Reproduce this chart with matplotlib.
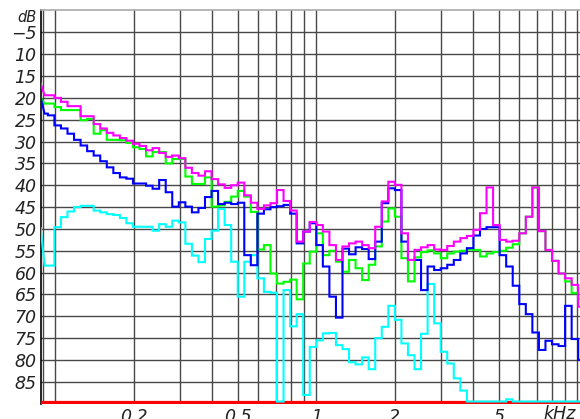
import numpy as np
import matplotlib
matplotlib.use("Agg")
import matplotlib.pyplot as plt
from matplotlib.ticker import FixedLocator, NullLocator

# ---- data (dB, larger = lower on chart), 1/12-octave bands from 2^(-42/12) kHz ----
band_k0 = -42          # first band edge exponent (k/12 octaves re 1 kHz)
n_bands = 83
floor_db = 89.5        # display floor (values beyond are drawn on the bottom edge)

magenta = [19.4, 19.4, 20.0, 20.9, 21.9, 21.9, 24.2, 24.2, 26.0, 27.0,
           28.0, 28.6, 29.2, 29.8, 30.5, 31.0, 32.0, 31.5, 32.6, 33.5,
           33.2, 33.8, 36.0, 37.2, 37.8, 36.8, 38.6, 39.8, 40.6, 40.0,
           39.4, 42.3, 44.0, 45.4, 44.6, 44.1, 41.1, 43.6, 45.8, 52.9,
           50.6, 48.4, 49.1, 50.6, 53.7, 57.1, 54.0, 53.3, 52.9, 53.7,
           54.4, 49.5, 43.7, 39.2, 39.9, 51.0, 57.1, 54.8, 54.2, 53.7,
           54.7, 54.8, 53.9, 52.9, 52.1, 51.6, 50.2, 46.4, 40.5, 49.1,
           52.5, 52.9, 52.7, 51.0, 47.2, 40.5, 50.5, 54.8, 57.3, 60.2,
           61.3, 62.8, 67.8]
green = [21.3, 21.3, 22.1, 22.8, 22.8, 22.8, 25.1, 24.8, 28.2, 27.4,
         29.6, 29.6, 29.7, 30.3, 31.3, 31.7, 33.4, 32.4, 32.4, 35.0,
         34.0, 34.0, 38.0, 39.7, 39.7, 38.2, 44.9, 44.6, 43.8, 42.6,
         41.3, 42.6, 46.1, 54.7, 53.7, 60.2, 62.5, 62.1, 61.6, 66.1,
         57.9, 55.2, 51.0, 56.0, 55.0, 57.5, 59.8, 57.1, 59.0, 61.7,
         58.2, 54.0, 48.3, 45.3, 47.2, 56.7, 62.0, 56.5, 55.3, 54.9,
         55.6, 56.7, 55.6, 55.2, 55.0, 54.7, 54.8, 56.3, 55.6, 55.3,
         55.0, 54.3, 53.5, 51.0, 47.2, 40.5, 50.5, 54.8, 57.3, 60.2,
         62.0, 64.7, 66.0]
blue = [23.6, 24.0, 26.3, 27.0, 28.2, 29.6, 30.9, 32.2, 33.2, 34.5,
        35.9, 37.2, 38.2, 38.5, 39.6, 39.6, 40.1, 40.8, 38.8, 41.6,
        44.9, 43.9, 44.9, 46.2, 45.2, 42.7, 41.3, 44.3, 44.0, 44.3,
        44.0, 56.0, 58.3, 46.5, 45.5, 45.0, 44.8, 44.5, 46.5, 53.3,
        50.6, 48.7, 53.7, 58.6, 65.5, 70.3, 54.5, 55.8, 54.2, 54.6,
        56.9, 52.9, 44.1, 40.7, 41.1, 52.9, 57.1, 57.1, 64.0, 58.6,
        59.4, 59.0, 58.2, 57.1, 55.6, 54.4, 51.5, 50.0, 49.6, 49.6,
        56.0, 58.6, 63.0, 67.2, 69.5, 73.7, 77.7, 75.6, 76.4, 76.8,
        67.6, 75.2, 80.0]
cyan = [58.4, 58.4, 49.6, 47.3, 46.0, 45.0, 44.7, 44.7, 45.8, 46.2,
        46.6, 46.8, 47.5, 48.7, 49.5, 49.5, 49.5, 50.4, 48.9, 49.5,
        48.1, 48.5, 53.4, 56.1, 57.6, 52.3, 50.4, 45.4, 49.1, 57.5,
        65.5, 57.5, 56.0, 61.3, 64.4, 64.6, 90.0, 64.0, 72.3, 69.5,
        88.0, 77.0, 75.5, 73.9, 73.8, 76.6, 77.5, 80.5, 81.0, 79.4,
        82.1, 75.0, 72.4, 67.6, 70.8, 76.2, 78.9, 82.1, 74.0, 62.6,
        71.6, 78.1, 80.8, 84.2, 87.0, 90.0, 90.0, 90.0, 90.0, 90.0,
        90.0, 89.0, 90.0, 90.0, 90.0, 90.0, 90.0, 90.0, 90.0, 90.0,
        90.0, 90.0, 90.0]
red = [90.0] * n_bands
start_db = {"red": 90.0, "cyan": 49.8, "green": 20.0, "blue": 20.0, "magenta": 16.7}

y_ticks = [5, 10, 15, 20, 25, 30, 35, 40, 45, 50, 55, 60, 65, 70, 75, 80, 85]
y_labels = ["\u22125", "10", "15", "20", "25", "30", "35", "40", "45",
            "50", "55", "60", "65", "70", "75", "80", "85"]
x_ticks = [0.2, 0.5, 1, 2, 5]
x_labels = ["0.2", "0.5", "1", "2", "5"]
x_grid = [0.09, 0.1, 0.2, 0.3, 0.4, 0.5, 0.6, 0.7, 0.8, 0.9,
          1, 2, 3, 4, 5, 6, 7, 8, 9, 10]

# ---- figure ----
W, H = 580, 419
fig = plt.figure(figsize=(W / 100, H / 100), dpi=100)
ax_left, ax_right, ax_top, ax_bot = 40.7, 580.0, 10.5, 403.7
ax = fig.add_axes([ax_left / W, (H - ax_bot) / H, (ax_right - ax_left) / W, (ax_bot - ax_top) / H])
px_per_dec = 261.0
x1k = 316.3
xmin = 10 ** ((ax_left - x1k) / px_per_dec)
xmax = 10 ** ((ax_right - x1k) / px_per_dec)
ax.set_xscale("log")
ax.set_xlim(xmin, xmax)
ax.set_ylim(90, 0)

edges = 2.0 ** ((band_k0 + np.arange(n_bands + 1)) / 12.0)
centers = np.sqrt(edges[:-1] * edges[1:])

def step_xy(vals, start):
    v = np.minimum(np.asarray(vals, float), floor_db)
    xs = [xmin, centers[0]]
    ys = [min(start, floor_db), v[0]]
    for i in range(1, n_bands):
        xs += [edges[i], edges[i]]
        ys += [v[i - 1], v[i]]
    xs.append(edges[-1])
    ys.append(v[-1])
    return xs, ys

# grid
for g in x_grid:
    ax.axvline(g, color="#484848", lw=1.0, zorder=1)
for t in y_ticks:
    ax.axhline(t, color="#484848", lw=1.0, zorder=1)

series = [("red", red, "#ff0000", 2.3),
          ("cyan", cyan, "#00ffff", 1.5),
          ("green", green, "#00ff00", 1.5),
          ("blue", blue, "#0000ff", 1.5),
          ("magenta", magenta, "#ff00ff", 1.5)]
for name, vals, col, lw in series:
    xs, ys = step_xy(vals, start_db[name])
    ax.plot(xs, ys, color=col, lw=lw, zorder=3, solid_joinstyle="miter")

ax.xaxis.set_major_locator(FixedLocator(x_ticks))
ax.xaxis.set_minor_locator(NullLocator())
ax.set_xticklabels(x_labels)
ax.set_yticks(y_ticks)
ax.set_yticklabels(y_labels)
ax.tick_params(axis="both", length=0, labelsize=12.5)
ax.tick_params(axis="y", pad=3)
ax.tick_params(axis="x", pad=3)
for lab in ax.get_xticklabels() + ax.get_yticklabels():
    lab.set_fontstyle("italic")
    lab.set_color("#222222")

for s in ["right", "bottom"]:
    ax.spines[s].set_visible(False)
ax.spines["left"].set_color("black")
ax.spines["left"].set_linewidth(1.2)
ax.spines["top"].set_color("#aaaaaa")
ax.spines["top"].set_linewidth(1.2)

fig.text(37 / W, 1 - 17 / H, "dB", ha="right", va="center", fontsize=10.5,
         style="italic", color="#222222")
fig.text(560 / W, 1 - 414 / H, "kHz", ha="center", va="center", fontsize=12.5,
         style="italic", color="#222222")

fig.savefig("out.png", dpi=100)
